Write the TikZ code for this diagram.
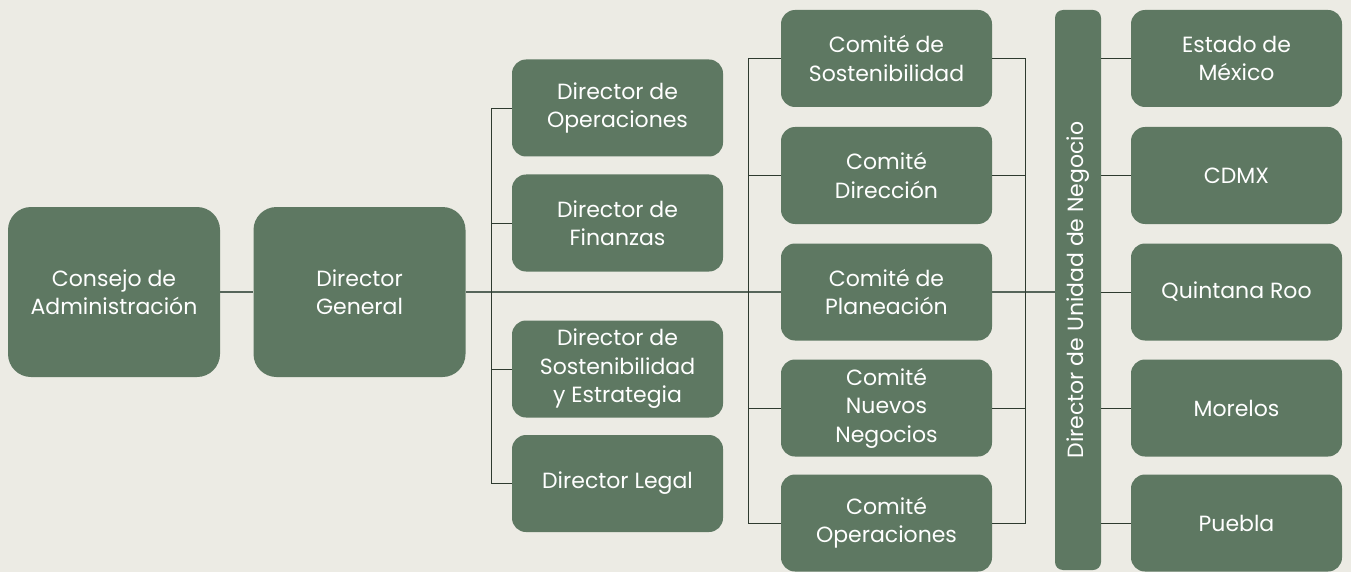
\documentclass[tikz,border=0pt]{standalone}
\usepackage{fontspec}
\setmainfont{Poppins}
\usetikzlibrary{backgrounds}
\definecolor{fondo}{HTML}{ECEBE4}
\definecolor{verde}{HTML}{5E7862}
\definecolor{linea}{HTML}{2E3A2F}
\definecolor{tronco}{HTML}{56655A}
\begin{document}
\begin{tikzpicture}[x=1pt,y=-1pt,
caja/.style={rectangle,rounded corners=14pt,fill=verde,text=white,align=center,minimum width=211pt,minimum height=97pt,inner sep=2pt,font=\fontsize{22}{28.5}\selectfont},
grande/.style={caja,minimum width=212pt,minimum height=170pt,rounded corners=23pt},
rama/.style={draw=linea,line width=0.9pt},
eje/.style={draw=tronco,line width=1.4pt}]
\node[grande](consejo) at (114,292){Consejo de\\Administración};
\node[grande](dg) at (359.5,292){Director\\General};
\node[caja](dirop) at (617.5,108){Director de\\Operaciones};
\node[caja](dirfin) at (617.5,223){Director de\\Finanzas};
\node[caja](dirsos) at (617.5,369){Director de\\Sostenibilidad\\y Estrategia};
\node[caja](dirleg) at (617.5,483.5){Director Legal};
\node[caja](comsos) at (886.5,58.5){Comité de\\Sostenibilidad};
\node[caja](comdir) at (886.5,175.5){Comité\\Dirección};
\node[caja](complan) at (886.5,292){Comité de\\Planeación};
\node[caja](comnue) at (886.5,408){Comité\\Nuevos\\Negocios};
\node[caja](comop) at (886.5,523){Comité\\Operaciones};
\node[caja,minimum width=46pt,minimum height=560pt,rounded corners=8pt,inner sep=0pt](unidad) at (1078,290){\rotatebox{90}{Director de Unidad de Negocio}};
\node[caja](edomex) at (1236.5,58.5){Estado de\\México};
\node[caja](cdmx) at (1236.5,175.5){CDMX};
\node[caja](qroo) at (1236.5,292){Quintana Roo};
\node[caja](mor) at (1236.5,408){Morelos};
\node[caja](pue) at (1236.5,523){Puebla};
\coordinate(dirbus) at (491,292);
\coordinate(combus) at (748,292);
\coordinate(comder) at (1025,292);
\begin{scope}[on background layer]
 \fill[fondo] (0,0) rectangle (1351,572);
 \draw[eje] (consejo)--(dg);
 \draw[eje] (dg.east)--(dg -| unidad.west);
\end{scope}
\begin{scope}[rama]
 \draw (dirbus)|-(dirop);
 \draw (dirbus)|-(dirfin);
 \draw (dirbus)|-(dirsos);
 \draw (dirbus)|-(dirleg);
 \draw (combus)|-(comsos);
 \draw (combus)|-(comdir);
 \draw (combus)|-(comnue);
 \draw (combus)|-(comop);
 \draw (comder)|-(comsos);
 \draw (comder)|-(comdir);
 \draw (comder)|-(comnue);
 \draw (comder)|-(comop);
 \draw (edomex -| unidad.east)--(edomex);
 \draw (cdmx -| unidad.east)--(cdmx);
 \draw (qroo -| unidad.east)--(qroo);
 \draw (mor -| unidad.east)--(mor);
 \draw (pue -| unidad.east)--(pue);
\end{scope}
\end{tikzpicture}
\end{document}
